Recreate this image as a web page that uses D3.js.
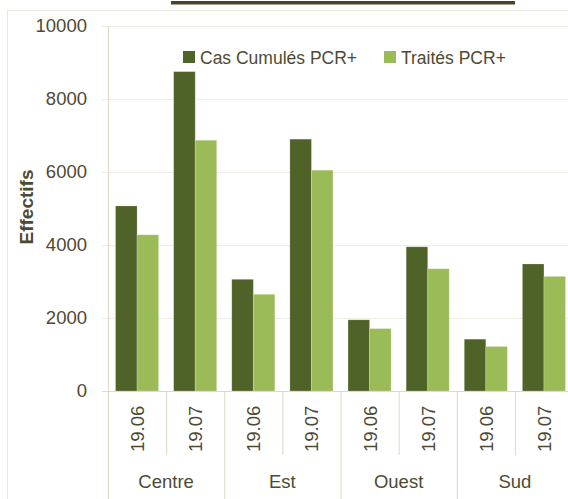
<!DOCTYPE html>
<html>
<head>
<meta charset="utf-8">
<script src="https://cdn.jsdelivr.net/npm/d3@7"></script>
<style>
  body { margin: 0; background: #fff; }
  text { font-family: "Liberation Sans", Arial, sans-serif; fill: #4d4a34; }
</style>
</head>
<body>
<div id="chart"></div>
<script>
// chart data
var regions = ["Centre", "Est", "Ouest", "Sud"];
var periods = ["19.06", "19.07"];
var seriesNames = ["Cas Cumulés PCR+", "Traités PCR+"];
var casCumules = [5070, 8750, 3060, 6900, 1950, 3950, 1420, 3480];
var traites = [4280, 6870, 2650, 6050, 1710, 3350, 1220, 3140];
var yTicks = [0, 2000, 4000, 6000, 8000, 10000];

var colors = ["#4f6228", "#9bbb59"];

var width = 568;
var height = 499;

var svg = d3.select("#chart")
  .append("svg")
  .attr("width", width)
  .attr("height", height);

// flatten rows: one per region / period
var rows = [];
regions.forEach(function(r, i) {
  periods.forEach(function(p, j) {
    var k = i * 2 + j;
    rows.push({ region: r, period: p, values: [casCumules[k], traites[k]] });
  });
});

// scales
var x0 = d3.scaleBand().domain(regions).range([108, 573]);
var x1 = d3.scaleBand().domain(periods).range([0, x0.bandwidth()]);
var x2 = d3.scaleBand().domain(seriesNames).range([0, x1.bandwidth()])
  .paddingInner(0).paddingOuter(0.35);
var y = d3.scaleLinear().domain([0, 10000]).range([391, 26]);

// outer chart border
svg.append("rect")
  .attr("x", 7.5).attr("y", 10.5)
  .attr("width", 600).attr("height", 600)
  .attr("fill", "none")
  .attr("stroke", "#ece9dc");

// cut-off title underline
svg.append("rect")
  .attr("x", 171).attr("y", 1)
  .attr("width", 344).attr("height", 3.5)
  .attr("fill", "#4a4528");

// gridlines
svg.append("g")
  .selectAll("line")
  .data(yTicks)
  .enter()
  .append("line")
  .attr("x1", 102).attr("x2", 573)
  .attr("y1", function(d) { return y(d) + 0.5; })
  .attr("y2", function(d) { return y(d) + 0.5; })
  .attr("stroke", function(d) { return d === 0 ? "#ddd9c3" : "#f0eee4"; })
  .attr("stroke-width", 1.2);

// y axis
var yAxis = d3.axisLeft(y).tickValues(yTicks).tickFormat(d3.format("d"))
  .tickSize(0).tickPadding(0);
var gy = svg.append("g").attr("transform", "translate(87,0)").call(yAxis);
gy.select(".domain").remove();
gy.selectAll("text")
  .style("font-size", "18.5px")
  .attr("fill", "#4d4a34");

// y axis line
svg.append("line")
  .attr("x1", 108.5).attr("x2", 108.5)
  .attr("y1", 26).attr("y2", 499)
  .attr("stroke", "#ddd9c3");

// y axis title
svg.append("text")
  .attr("transform", "translate(33,207) rotate(-90)")
  .attr("text-anchor", "middle")
  .style("font-size", "19px")
  .style("font-weight", "bold")
  .text("Effectifs");

// bars
var groups = svg.append("g")
  .selectAll("g")
  .data(rows)
  .enter()
  .append("g")
  .attr("transform", function(d) {
    return "translate(" + (x0(d.region) + x1(d.period)) + ",0)";
  });

groups.selectAll("rect")
  .data(function(d) { return d.values; })
  .enter()
  .append("rect")
  .attr("x", function(d, i) { return x2(seriesNames[i]); })
  .attr("width", x2.bandwidth())
  .attr("y", function(d) { return y(d); })
  .attr("height", function(d) { return y(0) - y(d); })
  .attr("fill", function(d, i) { return colors[i]; })
  .attr("stroke", "#ffffff")
  .attr("stroke-opacity", 0.25)
  .attr("stroke-width", 0.8);

// period separators and labels
rows.forEach(function(d) {
  var left = x0(d.region) + x1(d.period);
  if (d.period !== periods[0]) {
    svg.append("line")
      .attr("x1", left + 0.5).attr("x2", left + 0.5)
      .attr("y1", 391).attr("y2", 455)
      .attr("stroke", "#ddd9c3");
  }
  svg.append("text")
    .attr("transform", "translate(" + (left + x1.bandwidth() / 2 + 7) + ",452) rotate(-90)")
    .attr("text-anchor", "start")
    .style("font-size", "18.5px")
    .text(d.period);
});

// region separators and labels
regions.forEach(function(r, i) {
  if (i > 0) {
    svg.append("line")
      .attr("x1", x0(r) + 0.5).attr("x2", x0(r) + 0.5)
      .attr("y1", 391).attr("y2", 499)
      .attr("stroke", "#ddd9c3");
  }
  svg.append("text")
    .attr("x", x0(r) + x0.bandwidth() / 2)
    .attr("y", 488)
    .attr("text-anchor", "middle")
    .style("font-size", "18.5px")
    .text(r);
});

// legend
var legend = svg.append("g")
  .selectAll("g")
  .data(seriesNames)
  .enter()
  .append("g")
  .attr("transform", function(d, i) {
    return "translate(" + (i === 0 ? 183 : 384) + ",51)";
  });

legend.append("rect")
  .attr("width", 12)
  .attr("height", 12)
  .attr("fill", function(d, i) { return colors[i]; });

legend.append("text")
  .attr("x", 17)
  .attr("y", 12.5)
  .style("font-size", "17.5px")
  .text(function(d) { return d; });
</script>
</body>
</html>
